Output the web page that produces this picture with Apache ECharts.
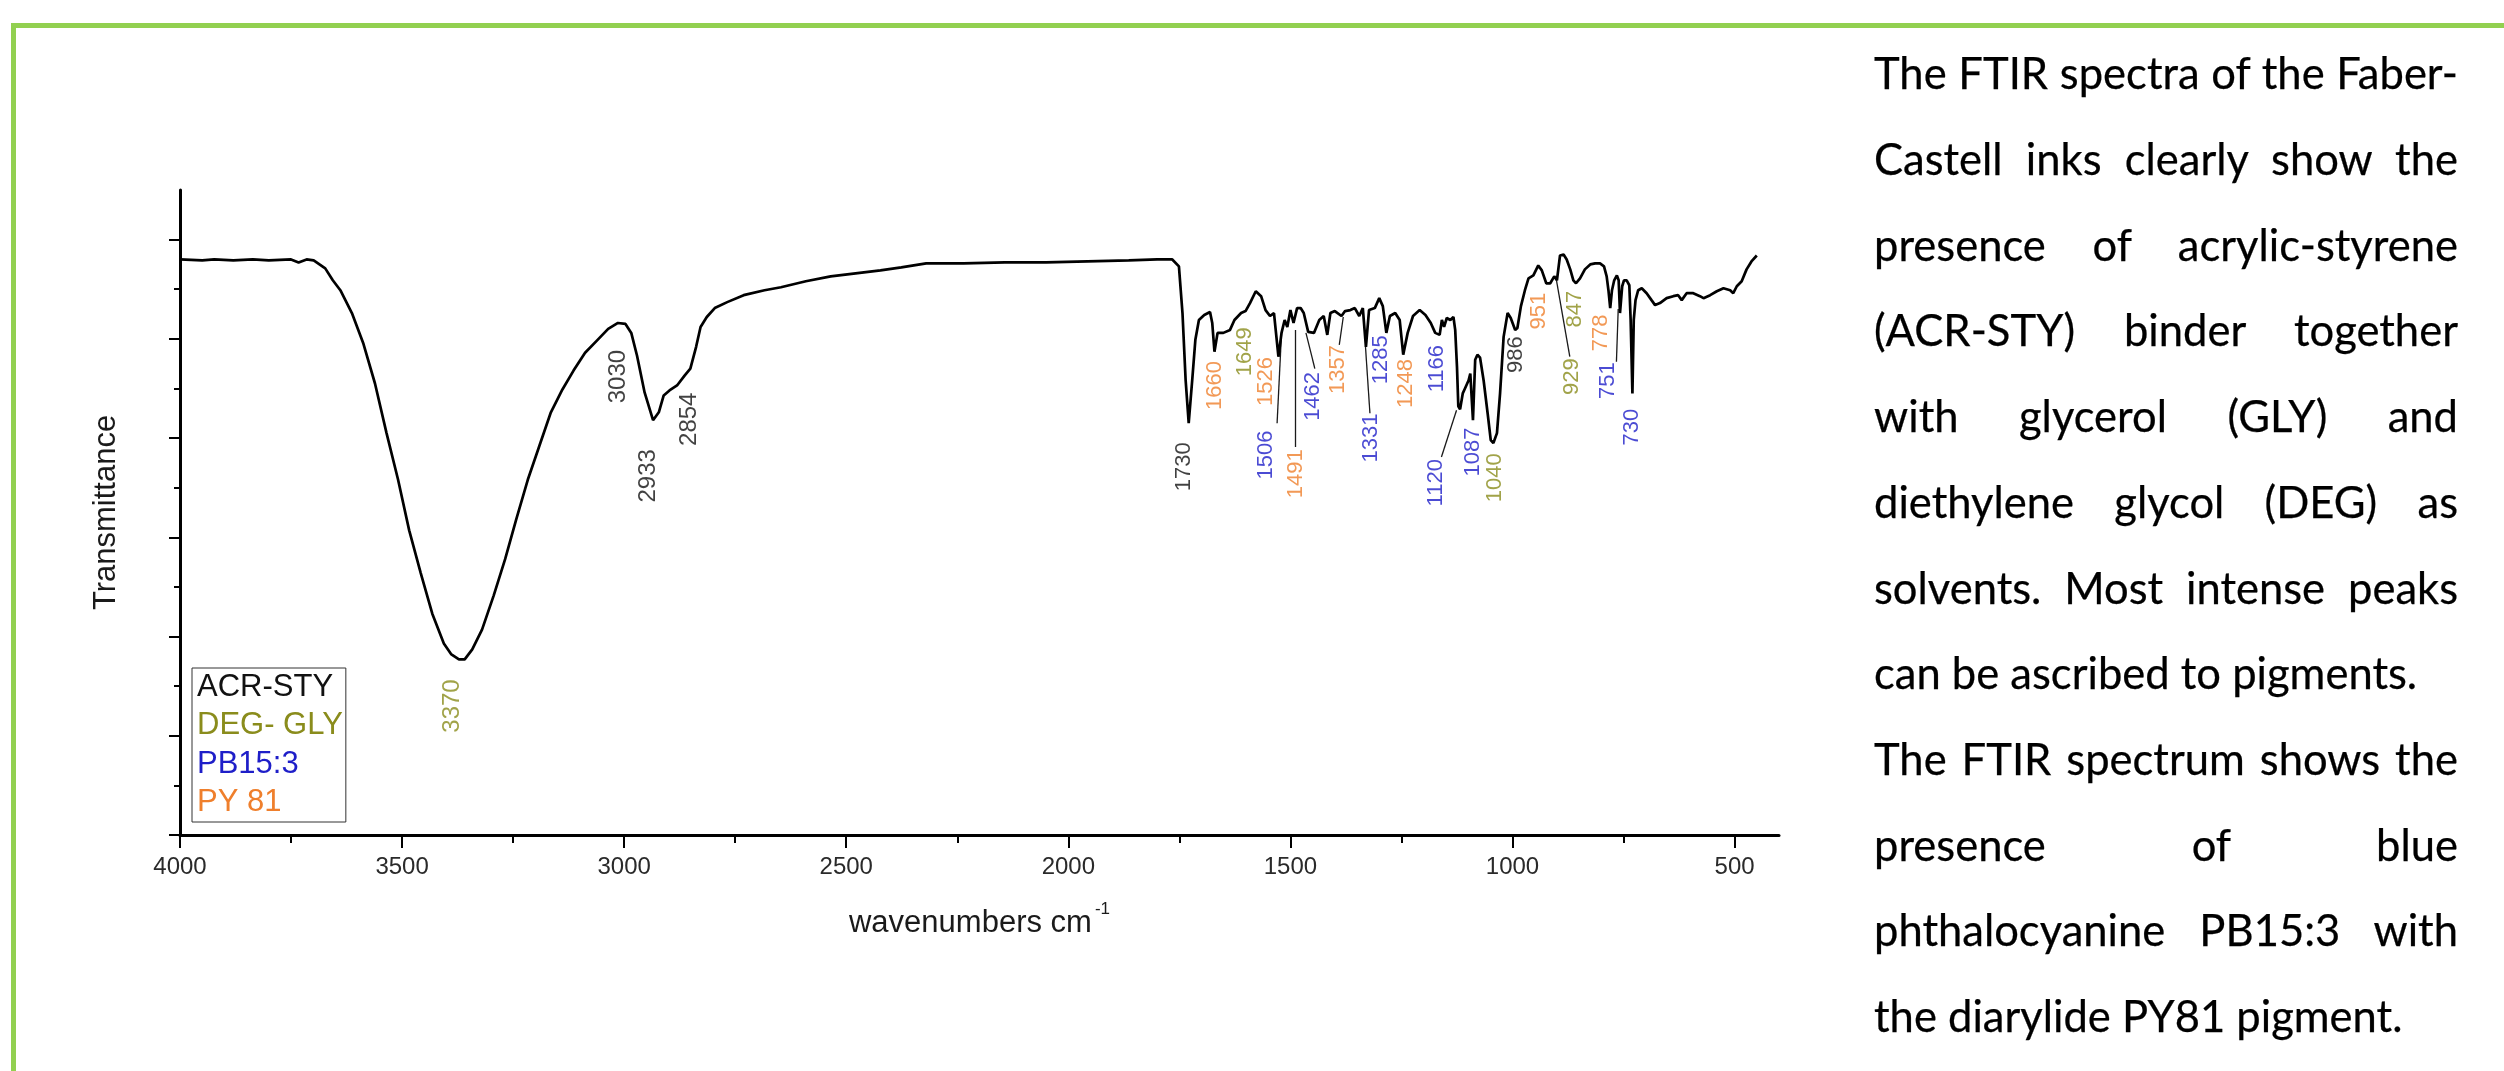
<!DOCTYPE html>
<html>
<head>
<meta charset="utf-8">
<script src="https://cdn.jsdelivr.net/npm/echarts@6/dist/echarts.min.js"></script>
<style>
  html, body { margin: 0; padding: 0; background: #fff; }
  #stage { position: relative; width: 2504px; height: 1071px; overflow: hidden; background: #fff; }
  #chart { position: absolute; left: 0; top: 0; width: 2504px; height: 1071px; }
  .frame-top { position: absolute; left: 11px; top: 23px; width: 2493px; height: 5px; background: #92d050; }
  .frame-left { position: absolute; left: 11px; top: 23px; width: 5px; height: 1048px; background: #92d050; }
  #para { position: absolute; left: 1874px; width: 584px; font-family: Lato, 'Open Sans', sans-serif; color: #000; -webkit-text-stroke: 0.25px #000; }
  #para div { white-space: nowrap; }
  #para .j { text-align: justify; text-align-last: justify; }
  #para .l { text-align: left; text-align-last: left; }
</style>
</head>
<body>
<div id="stage">
  <div id="chart"></div>
  <div class="frame-top"></div>
  <div class="frame-left"></div>
  <div id="para"></div>
</div>
<script>
// ---------- data ----------
const wavenumbers = [
  4000,3950,3923,3880,3836,3800,3750,3733,3715,3699,3673,3656,3639,3613,3587,3561,3535,3509,3484,3458,
  3432,3406,3389,3372,3359,3342,3320,3294,3268,3243,3217,3191,3165,3139,3114,3088,3062,3036,3014,2997,
  2984,2971,2954,2935,2922,2911,2898,2881,2864,2851,2838,2828,2814,2796,2768,2731,2684,2647,2591,2535,
  2479,2423,2376,2320,2236,2143,2050,1957,1864,1800,1766,1751,1743,1736,1729,1721,1714,1706,1694,1681,
  1676,1671,1664,1651,1636,1626,1611,1601,1591,1578,1566,1556,1546,1537,1527,1520,1513,1507,1500,1493,
  1485,1477,1470,1460,1447,1435,1425,1417,1410,1400,1385,1377,1365,1355,1345,1337,1330,1323,1310,1300,
  1292,1284,1276,1264,1254,1246,1236,1224,1209,1196,1184,1174,1164,1159,1154,1148,1140,1133,1129,1125,
  1122,1118,1112,1107,1099,1095,1089,1084,1079,1073,1065,1056,1049,1043,1035,1028,1020,1011,1004,994,
  989,981,972,964,953,942,934,924,915,906,900,893,885,878,870,863,857,848,837,825,
  814,803,794,788,784,780,776,771,765,761,758,753,749,743,737,734,730,727,723,717,
  709,698,687,679,668,653,638,627,619,608,593,578,570,555,540,525,510,503,495,484,
  473,462,450
];
const transmittance = [
  5.80,5.79,5.80,5.79,5.80,5.79,5.80,5.77,5.80,5.79,5.71,5.59,5.49,5.26,4.95,4.55,4.05,3.58,3.07,2.64,
  2.23,1.93,1.82,1.77,1.77,1.87,2.07,2.41,2.78,3.18,3.58,3.92,4.26,4.49,4.68,4.86,4.98,5.10,5.16,5.15,
  5.06,4.83,4.46,4.18,4.26,4.43,4.48,4.53,4.63,4.70,4.92,5.12,5.22,5.31,5.37,5.44,5.49,5.52,5.58,5.63,
  5.66,5.69,5.72,5.76,5.76,5.77,5.77,5.78,5.79,5.80,5.80,5.73,5.26,4.59,4.15,4.59,4.99,5.19,5.24,5.27,
  5.16,4.87,5.06,5.06,5.09,5.19,5.26,5.28,5.36,5.48,5.43,5.29,5.23,5.26,4.82,5.06,5.19,5.12,5.29,5.16,
  5.31,5.31,5.26,5.07,5.06,5.19,5.23,5.04,5.26,5.28,5.23,5.28,5.29,5.31,5.23,5.31,4.92,5.29,5.31,5.41,
  5.33,5.06,5.23,5.26,5.19,4.84,5.06,5.23,5.29,5.24,5.16,5.06,5.04,5.19,5.12,5.21,5.19,5.22,5.09,4.72,
  4.32,4.29,4.45,4.50,4.58,4.65,4.18,4.79,4.84,4.81,4.58,4.25,3.98,3.95,4.05,4.45,5.02,5.26,5.21,5.09,
  5.11,5.33,5.49,5.61,5.64,5.74,5.69,5.56,5.56,5.63,5.59,5.84,5.85,5.80,5.70,5.59,5.56,5.61,5.70,5.75,
  5.76,5.76,5.73,5.63,5.49,5.31,5.49,5.59,5.64,5.59,5.26,5.53,5.59,5.59,5.54,5.19,4.45,5.19,5.39,5.49,
  5.51,5.46,5.39,5.34,5.36,5.41,5.43,5.44,5.39,5.46,5.46,5.43,5.41,5.44,5.48,5.51,5.49,5.46,5.53,5.58,
  5.70,5.78,5.84
];

// x-axis tick labels (major) and minor tick positions
const xMajorTicks = [4000,3500,3000,2500,2000,1500,1000,500];
const xMinorTicks = [3750,3250,2750,2250,1750,1250,750];
const yMajorTicks = [0,1,2,3,4,5,6];
const yMinorTicks = [0.5,1.5,2.5,3.5,4.5,5.5];

// peak annotations: text, group, label centre (wavenumber, transmittance)
const peakText  = ['3370','3030','2933','2854','1730','1660','1649','1526','1506','1491','1462','1357','1331','1285','1248','1166','1120','1087','1040','986','951','929','847','778','751','730'];
const peakGroup = ['DEG','ACR','ACR','ACR','ACR','PY','DEG','PY','PB','PY','PB','PY','PB','PB','PY','PB','PB','PB','DEG','ACR','PY','DEG','DEG','PY','PB','PB'];
const peakLabelX = [3386,3012,2946,2854,1739,1670,1603,1554,1554,1487,1449,1392,1318,1296,1241,1169,1173,1090,1040,992,940,866,860,800,785,730];
const peakLabelY = [1.30,4.62,3.62,4.19,3.71,4.53,4.87,4.57,3.83,3.64,4.42,4.69,4.00,4.79,4.55,4.70,3.55,3.86,3.60,4.84,5.28,4.62,5.30,5.06,4.58,4.11];

// leader lines from labels to the spectrum: [w1, v1, w2, v2]
const leaderLines = [
  [1530,4.15,1520,5.06],
  [1488,3.91,1488,5.09],
  [1445,4.70,1465,5.06],
  [1390,4.94,1381,5.22],
  [1321,4.25,1331,4.92],
  [1160,3.81,1126,4.28],
  [871,4.82,901,5.59],
  [766,4.77,762,5.30]
];

const legendNames = ['ACR-STY','DEG- GLY','PB15:3','PY 81'];
const legendGroups = ['ACR','DEG','PB','PY'];

const paraLines = [
  ['The FTIR spectra of the Faber-','j'],
  ['Castell inks clearly show the','j'],
  ['presence of acrylic-styrene','j'],
  ['(ACR-STY) binder together','j'],
  ['with glycerol (GLY) and','j'],
  ['diethylene glycol (DEG) as','j'],
  ['solvents. Most intense peaks','j'],
  ['can be ascribed to pigments.','l'],
  ['The FTIR spectrum shows the','j'],
  ['presence of blue','j'],
  ['phthalocyanine PB15:3 with','j'],
  ['the diarylide PY81 pigment.','l']
];

// ---------- styles ----------
const groupColor = { ACR: '#111111', DEG: '#8a8c1c', PB: '#1e1ec8', PY: '#ef7f2c' };
const FONT = "'Liberation Sans', Arial, sans-serif";

// ---------- chart ----------
const chart = echarts.init(document.getElementById('chart'), null, { renderer: 'canvas' });

const lineData = wavenumbers.map((w, i) => [w, transmittance[i]]);
const labelData = peakText.map((t, i) => ({
  name: t,
  value: [peakLabelX[i], peakLabelY[i]],
  label: { color: groupColor[peakGroup[i]], fontSize: peakLabelX[i] > 2000 ? 24 : 22 }
}));

const commonX = { type: 'value', min: 400, max: 4000, inverse: true, gridIndex: 0 };
const commonY = { type: 'value', min: 0, max: 6.5, gridIndex: 0 };

const option = {
  animation: false,
  backgroundColor: 'transparent',
  grid: { left: 180, top: 190, right: 725, bottom: 236, outerBoundsMode: 'none', containLabel: false },
  legend: {
    show: true,
    orient: 'vertical',
    left: 192,
    top: 668,
    padding: [0, 3, 0, 0],
    itemGap: 0,
    itemWidth: 0,
    itemHeight: 0,
    selectedMode: false,
    borderColor: '#333',
    borderWidth: 1,
    backgroundColor: '#fff',
    textStyle: { fontFamily: FONT, fontSize: 31, lineHeight: 38.5 },
    data: legendNames.map((n, i) => ({ name: n, icon: 'rect', itemStyle: { opacity: 0 }, textStyle: { color: groupColor[legendGroups[i]] } }))
  },
  xAxis: [
    Object.assign({}, commonX, {
      name: '{a|wavenumbers cm}{s|-1}',
      nameLocation: 'middle',
      nameGap: 66,
      nameTextStyle: {
        rich: {
          a: { fontFamily: FONT, fontSize: 31, color: '#1a1a1a', lineHeight: 44 },
          s: { fontFamily: FONT, fontSize: 17, color: '#1a1a1a', lineHeight: 17, verticalAlign: 'top', padding: [0, 0, 0, 3] }
        }
      },
      axisLine: { show: true, onZero: false, lineStyle: { color: '#000', width: 3 } },
      axisTick: { show: true, inside: false, length: 13, lineStyle: { color: '#000', width: 2 }, customValues: xMajorTicks },
      axisLabel: { show: true, margin: 20, fontFamily: FONT, fontSize: 24, color: '#2a2a2a', customValues: xMajorTicks, formatter: v => String(v) },
      splitLine: { show: false }
    }),
    Object.assign({}, commonX, {
      position: 'bottom',
      axisLine: { show: false, onZero: false },
      axisTick: { show: true, inside: false, length: 8, lineStyle: { color: '#000', width: 2 }, customValues: xMinorTicks },
      axisLabel: { show: false },
      splitLine: { show: false }
    })
  ],
  yAxis: [
    Object.assign({}, commonY, {
      name: 'Transmittance',
      nameLocation: 'middle',
      nameRotate: 90,
      nameGap: 58,
      nameTextStyle: { fontFamily: FONT, fontSize: 31, color: '#1a1a1a' },
      axisLine: { show: true, onZero: false, lineStyle: { color: '#000', width: 3 } },
      axisTick: { show: true, inside: false, length: 11, lineStyle: { color: '#000', width: 2 }, customValues: yMajorTicks },
      axisLabel: { show: false },
      splitLine: { show: false }
    }),
    Object.assign({}, commonY, {
      position: 'left',
      axisLine: { show: false, onZero: false },
      axisTick: { show: true, inside: false, length: 6, lineStyle: { color: '#000', width: 2 }, customValues: yMinorTicks },
      axisLabel: { show: false },
      splitLine: { show: false }
    })
  ],
  series: [
    {
      name: 'spectrum',
      type: 'line',
      xAxisIndex: 0, yAxisIndex: 0,
      data: lineData,
      showSymbol: false,
      symbol: 'none',
      smooth: false,
      lineStyle: { color: '#000', width: 2.7 },
      silent: true,
      z: 3
    },
    {
      name: 'leaders',
      type: 'lines',
      coordinateSystem: 'cartesian2d',
      xAxisIndex: 0, yAxisIndex: 0,
      data: leaderLines.map(l => ({ coords: [[l[0], l[1]], [l[2], l[3]]] })),
      lineStyle: { color: '#1a1a1a', width: 1.3, opacity: 1 },
      symbol: ['none', 'none'],
      silent: true,
      z: 2
    },
    {
      name: 'peaks',
      type: 'scatter',
      xAxisIndex: 0, yAxisIndex: 0,
      data: labelData,
      symbol: 'circle',
      symbolSize: 1,
      itemStyle: { color: 'rgba(255,255,255,0)' },
      label: {
        show: true,
        position: 'inside',
        rotate: 90,
        align: 'center',
        verticalAlign: 'middle',
        fontFamily: FONT,
        formatter: p => p.name
      },
      clip: false,
      silent: true,
      z: 4
    }
  ].concat(legendNames.map((n, i) => ({
    name: n, type: 'line', data: [], xAxisIndex: 0, yAxisIndex: 0,
    itemStyle: { color: groupColor[legendGroups[i]] }, lineStyle: { opacity: 0 }
  })))
};
chart.setOption(option);

// ---------- side paragraph ----------
(function () {
  const para = document.getElementById('para');
  const fam = "Lato, 'Open Sans', sans-serif";
  const ctx = document.createElement('canvas').getContext('2d');
  ctx.font = '100px ' + fam;
  let size = 100 * 558 / ctx.measureText('can be ascribed to pigments.').width;
  paraLines.forEach(([t, k]) => {
    if (k === 'j') {
      const w = ctx.measureText(t).width;
      size = Math.min(size, 100 * 582 / w);
    }
  });
  const lh = 85.7;
  para.style.fontSize = size.toFixed(2) + 'px';
  para.style.lineHeight = lh + 'px';
  const baselineOffset = (lh - 1.2 * size) / 2 + 0.987 * size;
  para.style.top = (90 - baselineOffset).toFixed(1) + 'px';
  paraLines.forEach(([t, k]) => {
    const d = document.createElement('div');
    d.className = k;
    d.textContent = t;
    para.appendChild(d);
  });
})();
</script>
</body>
</html>
